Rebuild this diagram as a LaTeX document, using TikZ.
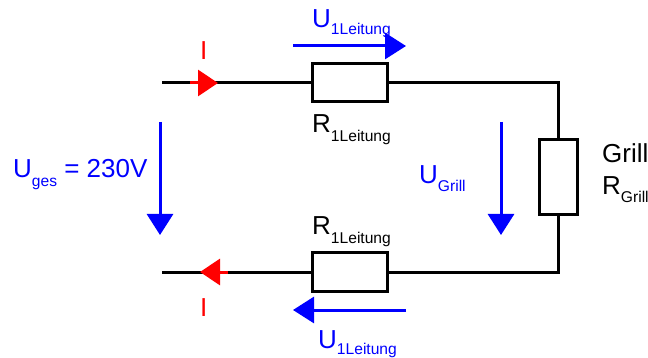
\documentclass[tikz,border=0pt]{standalone}
\usepackage{fontspec}
\setmainfont{Liberation Sans}
\usetikzlibrary{arrows.meta, positioning}
\definecolor{spannungblau}{RGB}{0,0,255}
\definecolor{stromrot}{RGB}{255,0,0}
\tikzstyle{widerstand} = [draw=black, line width=3pt, fill=white, rectangle, inner sep=0pt]
\tikzstyle{leitung} = [draw=black, line width=3pt, line join=miter]
\tikzstyle{spannung} = [draw=spannungblau, line width=3pt, -{Triangle[width=26pt,length=21pt]}]
\tikzstyle{strom} = [draw=stromrot, line width=3pt, -{Triangle[width=26pt,length=20pt]}]
\tikzstyle{beschriftung} = [anchor=base west, inner sep=0pt, font=\fontsize{26}{26}\selectfont]
\newcommand{\tief}[2]{\raisebox{-#1}{\fontsize{15.6}{15.6}\selectfont #2}}

\begin{document}
\begin{tikzpicture}[x=1pt, y=-1pt]
	\useasboundingbox (0,0) rectangle (648,358);
	% Widerstaende
	\node [widerstand, minimum width=75pt, minimum height=38pt] (roben) at (349.5,83) {};
	\node [widerstand, minimum width=75pt, minimum height=38pt] (runten) at (349.5,272) {};
	\node [widerstand, minimum width=38pt, minimum height=75pt] (rgrill) at (558,177.5) {};
	% Leitung
	\coordinate (einoben) at (162,83);
	\coordinate (einunten) at (162,272);
	\coordinate (eckeoben) at (558,83);
	\coordinate (eckeunten) at (558,272);
	\draw [leitung] (einoben) -- (roben);
	\draw [leitung] (roben) -- (eckeoben) -- (rgrill);
	\draw [leitung] (rgrill) -- (eckeunten) -- (runten);
	\draw [leitung] (runten) -- (einunten);
	% Strom
	\coordinate (ioben1) at (190,83);
	\coordinate (ioben2) at (218,83);
	\coordinate (iunten1) at (228,272);
	\coordinate (iunten2) at (200,272);
	\draw [strom] (ioben1) -- (ioben2);
	\draw [strom] (iunten1) -- (iunten2);
	\node [beschriftung, text=stromrot] (ilabeloben) at (200,60) {I};
	\node [beschriftung, text=stromrot] (ilabelunten) at (200,316) {I};
	% Spannungen
	\coordinate (u1a) at (293,46);
	\coordinate (u1b) at (406,46);
	\coordinate (u2a) at (406,310);
	\coordinate (u2b) at (293,310);
	\coordinate (ugesa) at (160,122);
	\coordinate (ugesb) at (160,235);
	\coordinate (ugrilla) at (501,122);
	\coordinate (ugrillb) at (501,235);
	\draw [spannung] (u1a) -- (u1b);
	\draw [spannung] (u2a) -- (u2b);
	\draw [spannung] (ugesa) -- (ugesb);
	\draw [spannung] (ugrilla) -- (ugrillb);
	% Texte
	\node [beschriftung, text=spannungblau] (luoben) at (312,28) {U\tief{7pt}{1Leitung}};
	\node [beschriftung, text=spannungblau] (luunten) at (318,348) {U\tief{6pt}{1Leitung}};
	\node [beschriftung, text=spannungblau] (luges) at (13,178) {U\tief{9pt}{ges} = 230V};
	\node [beschriftung, text=spannungblau] (lugrill) at (419,184) {U\tief{8pt}{Grill}};
	\node [beschriftung] (lroben) at (312,133) {R\tief{9pt}{1Leitung}};
	\node [beschriftung] (lrunten) at (312,235) {R\tief{9pt}{1Leitung}};
	\node [beschriftung] (lgrill) at (602,163) {Grill};
	\node [beschriftung] (lrgrill) at (602,195) {R\tief{8pt}{Grill}};
\end{tikzpicture}
\end{document}
